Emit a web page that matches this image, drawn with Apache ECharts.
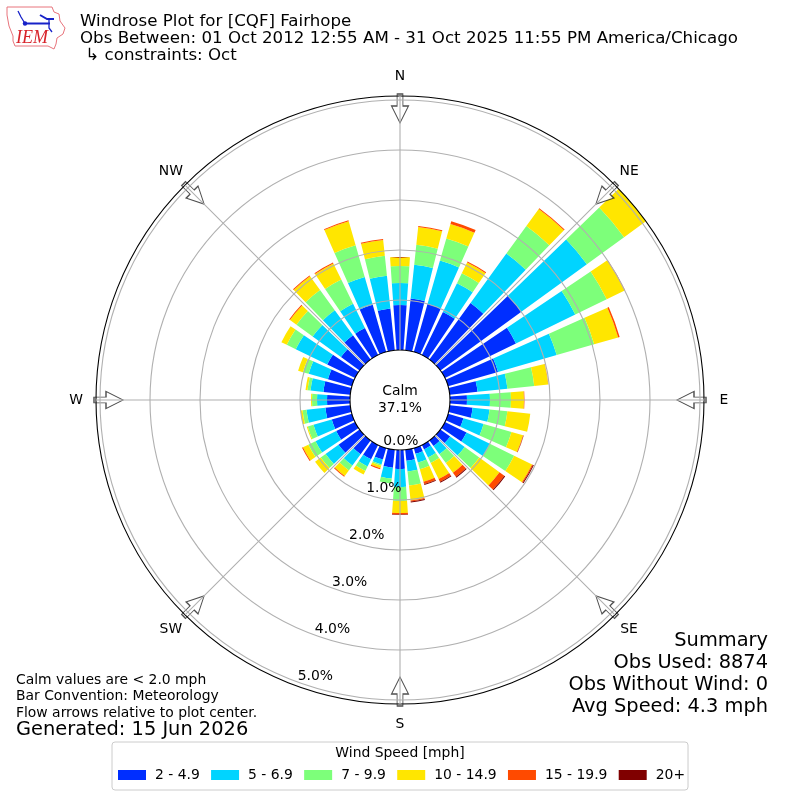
<!DOCTYPE html>
<html><head><meta charset="utf-8">
<script src="https://cdn.jsdelivr.net/npm/echarts@6/dist/echarts.min.js"></script>
<style>html,body{margin:0;padding:0;background:#fff}#c{width:800px;height:800px}</style>
</head><body><div id="c"></div>
<script>
const directions = [0,10,20,30,40,50,60,70,80,90,100,110,120,130,140,150,160,170,180,190,200,210,220,230,240,250,260,270,280,290,300,310,320,330,340,350];
const speedNames = ['2 - 4.9','5 - 6.9','7 - 9.9','10 - 14.9','15 - 19.9','20+'];
const speedColors = ['#002eff','#00d4ff','#7dff7a','#ffe600','#ff4a00','#800000'];
const s2to5   = [.90,1.04,1.00,.96,1.40,2.00,1.58,1.04,.56,.34,.46,.32,.48,.24,.14,.10,.12,.22,.38,.36,.24,.32,.34,.52,.42,.42,.50,.46,.54,.50,.62,.46,.60,.60,.98,.84];
const s5to7   = [.44,.68,.90,.64,1.22,1.62,1.32,1.22,.60,.46,.34,.42,.52,.36,.20,.18,.18,.22,.36,.22,.10,.16,.28,.32,.46,.38,.38,.20,.26,.40,.70,.70,.62,.54,.58,.66];
const s7to10  = [.34,.40,.46,.22,.68,.92,.70,.78,.54,.42,.36,.58,.54,.36,.22,.12,.14,.28,.28,.10,.03,.10,.12,.12,.16,.12,.08,.10,.06,.12,.20,.40,.50,.54,.66,.40];
const s10to15 = [.18,.36,.30,.24,.42,.54,.40,.50,.28,.26,.46,.24,.40,.50,.24,.36,.26,.30,.24,0,.05,.08,.14,.14,.12,.02,.04,.02,.04,.10,.12,.16,.34,.36,.50,.32];
const s15to20 = [0,.02,.06,.02,.02,0,.01,.03,.005,.01,0,.01,.02,.12,.10,.06,.05,.02,.03,0,.02,0,.02,0,.02,0,0,0,0,0,0,.02,.02,.02,.02,.02];
const s20up   = [0,0,0,0,0,0,0,0,0,0,0,.005,.02,.02,.02,.02,.02,.02,.01,0,0,0,0,0,0,0,0,0,0,0,0,0,0,0,0,0];
const speedSeries = [s2to5,s5to7,s7to10,s10to15,s15to20,s20up];
const compassNames = ['N','NE','E','SE','S','SW','W','NW'];
const compassAngles = [0,45,90,135,180,225,270,315];
const compassLabelRadius = 5.48;
const arrowRadius = 4.83;
const radialTicks = [0,1,2,3,4,5];
const radialLabelAngle = 200;
const axisMax = 5.08;
const titleLines = ['Windrose Plot for [CQF] Fairhope','Obs Between: 01 Oct 2012 12:55 AM - 31 Oct 2025 11:55 PM America/Chicago',' \u21b3 constraints: Oct'];
const noteLines = ['Calm values are < 2.0 mph','Bar Convention: Meteorology','Flow arrows relative to plot center.'];
const generated = 'Generated: 15 Jun 2026';
const summaryLines = ['Summary','Obs Used: 8874','Obs Without Wind: 0','Avg Speed: 4.3 mph'];
const calmText = 'Calm\n37.1%';
const legendTitle = 'Wind Speed [mph]';

const font = 'DejaVu Sans';
const chart = echarts.init(document.getElementById('c'), null, {renderer:'canvas'});
const hidden = {axisLine:{show:false},axisTick:{show:false},axisLabel:{show:false},splitLine:{show:false},splitArea:{show:false}};
const txt = (x,y,text,size,align,extra) => ({type:'text',x,y,z:20,silent:true,style:Object.assign({text,x:0,y:0,fontFamily:font,fontSize:size,fill:'#000',align:align||'left',verticalAlign:'middle'},extra||{})});

const graphics = [];
titleLines.forEach((t,i)=>graphics.push(txt(80,21.5+i*17,t,16.67)));
noteLines.forEach((t,i)=>graphics.push(txt(16,680+i*16.5,t,13.9)));
graphics.push(txt(16,730,generated,19.4));
summaryLines.forEach((t,i)=>graphics.push(txt(768,640.5+i*22,t,19.4,'right')));
graphics.push(txt(400,400,calmText,13.9,'center',{lineHeight:16.5}));
graphics.push(txt(400,753,legendTitle,13.9,'center'));
// IEM logo
graphics.push({type:'polyline',silent:true,z:20,shape:{points:[[7,7],[52,7],[54,12],[59,14],[60,21],[65,28],[63,34],[57,38],[56,44],[54,49],[48,46],[15,46],[13,41],[13,36],[9,26],[7,15],[7,7]]},style:{stroke:'#e8747c',fill:'none',lineWidth:1}});
graphics.push({type:'polyline',silent:true,z:20,shape:{points:[[25,23.5],[50,23.5]]},style:{stroke:'#1722c8',lineWidth:2,fill:'none'}});
graphics.push({type:'polyline',silent:true,z:20,shape:{points:[[25,23.5],[21,17],[18,11]]},style:{stroke:'#1722c8',lineWidth:1.3,fill:'none'}});
graphics.push({type:'polyline',silent:true,z:20,shape:{points:[[40,15],[47,19],[54,19]]},style:{stroke:'#1722c8',lineWidth:2,fill:'none'}});
graphics.push({type:'polyline',silent:true,z:20,shape:{points:[[49,19],[49,28],[52,32]]},style:{stroke:'#1722c8',lineWidth:1.3,fill:'none'}});
graphics.push({type:'circle',silent:true,z:20,shape:{cx:25,cy:23.5,r:2.2},style:{fill:'#1722c8'}});
graphics.push({type:'text',x:16,y:38,z:20,silent:true,style:{text:'IEM',x:0,y:0,fontFamily:'Liberation Serif',fontStyle:'italic',fontSize:18,fill:'#d8232a',verticalAlign:'middle'}});

const series = speedSeries.map((vals,i)=>({
  name:speedNames[i],type:'bar',coordinateSystem:'polar',polarIndex:0,stack:'wind',
  data:vals,barWidth:'80%',z:2,silent:true,itemStyle:{color:speedColors[i]}
}));
series.push({
  type:'scatter',coordinateSystem:'polar',polarIndex:1,z:3,silent:true,
  data:compassAngles.map(a=>[arrowRadius,a]),
  symbol:'path://M5.6,0 L11.4,0 L11.4,12 L17,12 L8.5,29 L0,12 L5.6,12 Z',
  symbolSize:[17,29],
  symbolRotate:(v)=>-v[1],
  itemStyle:{color:'#fff',borderColor:'#222',borderWidth:1.1}
});
series.push({
  type:'scatter',coordinateSystem:'polar',polarIndex:1,z:12,silent:true,clip:false,
  data:compassAngles.map(a=>[compassLabelRadius,a]),
  symbolSize:1,itemStyle:{opacity:0},
  label:{show:true,position:'inside',opacity:1,fontFamily:font,fontSize:13.9,color:'#000',
    formatter:(p)=>compassNames[p.dataIndex]}
});
series.push({
  type:'scatter',coordinateSystem:'polar',polarIndex:1,z:12,silent:true,
  data:radialTicks.map(r=>[r,radialLabelAngle]),
  symbolSize:1,itemStyle:{opacity:0},
  label:{show:true,position:'inside',opacity:1,offset:[18,-6],fontFamily:font,fontSize:13.9,color:'#000',
    formatter:(p)=>p.value[0].toFixed(1)+'%'}
});

chart.setOption({
  animation:false,
  backgroundColor:'#fff',
  polar:[
    {center:[400,400],radius:[50,304]},
    {center:[400,400],radius:[50,304]}
  ],
  angleAxis:[
    Object.assign({polarIndex:0,type:'category',data:directions,startAngle:95,clockwise:true,boundaryGap:true,z:0},hidden),
    {polarIndex:1,type:'value',min:0,max:360,interval:45,startAngle:90,clockwise:true,z:5,silent:true,
      axisLine:{show:false},axisTick:{show:false},axisLabel:{show:false},
      splitLine:{show:true,lineStyle:{color:'#b0b0b0',width:1.1}}}
  ],
  radiusAxis:[
    Object.assign({polarIndex:0,type:'value',min:0,max:axisMax,z:0},hidden),
    {polarIndex:1,type:'value',min:0,max:axisMax,interval:1,z:5,silent:true,
      axisLine:{show:false},axisTick:{show:false},axisLabel:{show:false},
      splitLine:{show:true,lineStyle:{color:['#000','#b0b0b0','#b0b0b0','#b0b0b0','#b0b0b0','#b0b0b0','#000'],width:1.1}}}
  ],
  legend:{
    data:speedNames,left:112,top:742,orient:'horizontal',icon:'rect',itemWidth:28,itemHeight:10,itemGap:11.3,
    selectedMode:false,borderColor:'#ccc',borderWidth:1,borderRadius:3,backgroundColor:'#fff',
    padding:[26,3,8,6],
    textStyle:{fontFamily:font,fontSize:13.9,color:'#000',padding:[0,0,0,4]}
  },
  graphic:graphics,
  series
});
</script></body></html>
